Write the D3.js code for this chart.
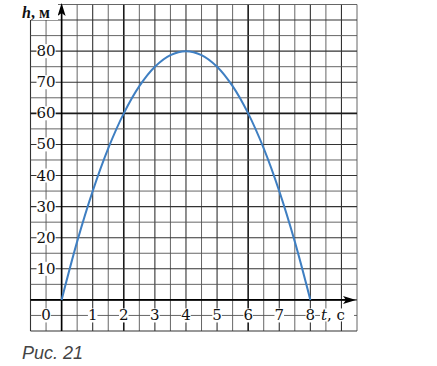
<!DOCTYPE html>
<html>
<head>
<meta charset="utf-8">
<script src="https://cdn.jsdelivr.net/npm/d3@7"></script>
<style>
  html, body { margin: 0; padding: 0; background: #fff; }
  svg { display: block; }
</style>
</head>
<body>
<svg id="chart" width="437" height="366"></svg>
<script>
// ---- data ----
const timeValues   = [0, 0.5, 1, 1.5, 2, 2.5, 3, 3.5, 4, 4.5, 5, 5.5, 6, 6.5, 7, 7.5, 8];
const heightValues = [0, 18.75, 35, 48.75, 60, 68.75, 75, 78.75, 80, 78.75, 75, 68.75, 60, 48.75, 35, 18.75, 0];
const xTickLabels  = [1, 2, 3, 4, 5, 6, 7, 8];
const yTickLabels  = [10, 20, 30, 40, 50, 60, 70, 80];
const xGridValues  = d3.range(-1, 9.51, 0.5);
const yGridValues  = d3.range(-10, 95.1, 5);
const emphasisT    = [2, 6];
const emphasisH    = [60];

const svg = d3.select("#chart");
const x = d3.scaleLinear().domain([-1, 9.5]).range([30.5, 357]);
const y = d3.scaleLinear().domain([-10, 95]).range([331, 4.5]);

const serif = "'DejaVu Serif','Liberation Serif',serif";

// grid
const grid = svg.append("g");
grid.selectAll("line.v").data(xGridValues).join("line")
  .attr("x1", d => x(d)).attr("x2", d => x(d))
  .attr("y1", y(-10)).attr("y2", y(95))
  .attr("stroke", d => emphasisT.includes(d) ? "#1a1a1a" : (Number.isInteger(d) ? "#333" : "#555"))
  .attr("stroke-width", d => emphasisT.includes(d) ? 1.6 : (Number.isInteger(d) ? 1.1 : 0.9));
grid.selectAll("line.h").data(yGridValues).join("line")
  .attr("x1", x(-1)).attr("x2", x(9.5))
  .attr("y1", d => y(d)).attr("y2", d => y(d))
  .attr("stroke", d => emphasisH.includes(d) ? "#1a1a1a" : (d % 10 === 0 ? "#333" : "#555"))
  .attr("stroke-width", d => emphasisH.includes(d) ? 1.6 : (d % 10 === 0 ? 1.1 : 0.9));

// axes
svg.append("line").attr("x1", x(-1)).attr("x2", x(9.5) - 4)
  .attr("y1", y(0)).attr("y2", y(0)).attr("stroke", "#000").attr("stroke-width", 1.6);
svg.append("line").attr("x1", x(0)).attr("x2", x(0))
  .attr("y1", y(-10)).attr("y2", y(95) + 4).attr("stroke", "#000").attr("stroke-width", 1.6);
// arrowheads
const ax = x(9.5) - 1, ay = y(0);
svg.append("path").attr("d", `M${ax},${ay} L${ax - 13},${ay - 4} L${ax - 10},${ay} L${ax - 13},${ay + 4} Z`).attr("fill", "#000");
const bx = x(0), by = y(95) - 1.5;
svg.append("path").attr("d", `M${bx},${by} L${bx - 4},${by + 13} L${bx},${by + 10} L${bx + 4},${by + 13} Z`).attr("fill", "#000");

// curve
const pts = timeValues.map((t, i) => [t, heightValues[i]]);
svg.append("path").datum(pts)
  .attr("d", d3.line().x(d => x(d[0])).y(d => y(d[1])).curve(d3.curveCatmullRom.alpha(0.5)))
  .attr("fill", "none").attr("stroke", "#3f7fc2").attr("stroke-width", 2);

// labels with white background
function label(g, txt, cx, cy, size) {
  const t = g.append("text").attr("x", cx).attr("y", cy)
    .attr("text-anchor", "middle").attr("dominant-baseline", "central")
    .attr("font-family", serif).attr("font-size", size).attr("fill", "#111").text(txt);
  const b = t.node().getBBox();
  g.insert("rect", "text").attr("x", b.x).attr("y", b.y + 2).attr("width", b.width).attr("height", b.height - 4).attr("fill", "#fff");
}
const lg = svg.append("g");
yTickLabels.forEach(v => { const g = lg.append("g"); label(g, v, x(-0.5), y(v), 15); });
xTickLabels.forEach(v => { const g = lg.append("g"); label(g, v, x(v), y(-5), 15); });
{ const g = lg.append("g"); label(g, 0, x(-0.5), y(-5), 15); }

// axis titles
svg.append("rect").attr("x", 18).attr("y", 4).attr("width", 40).attr("height", 16).attr("fill", "#fff");
const ht = svg.append("text").attr("x", 22).attr("y", 18).attr("font-family", "'Liberation Serif',serif").attr("font-size", 16).attr("font-weight", "bold").attr("fill", "#111");
ht.append("tspan").attr("font-style", "italic").text("h");
ht.append("tspan").text(", м");

const tt = svg.append("g");
tt.append("rect").attr("x", 320).attr("y", y(-5) - 7).attr("width", 34).attr("height", 13).attr("fill", "#fff");
tt.append("text").attr("x", 321).attr("y", y(-5)).attr("dominant-baseline", "central")
  .attr("font-family", serif).attr("font-size", 15).attr("fill", "#111")
  .call(s => { s.append("tspan").attr("font-style", "italic").text("t"); s.append("tspan").text(", c"); });

// caption
svg.append("text").attr("x", 22).attr("y", 359).attr("font-family", "'Liberation Sans','DejaVu Sans',sans-serif")
  .attr("font-size", 18).attr("font-style", "italic").attr("fill", "#444").text("Рис. 21");
</script>
</body>
</html>
